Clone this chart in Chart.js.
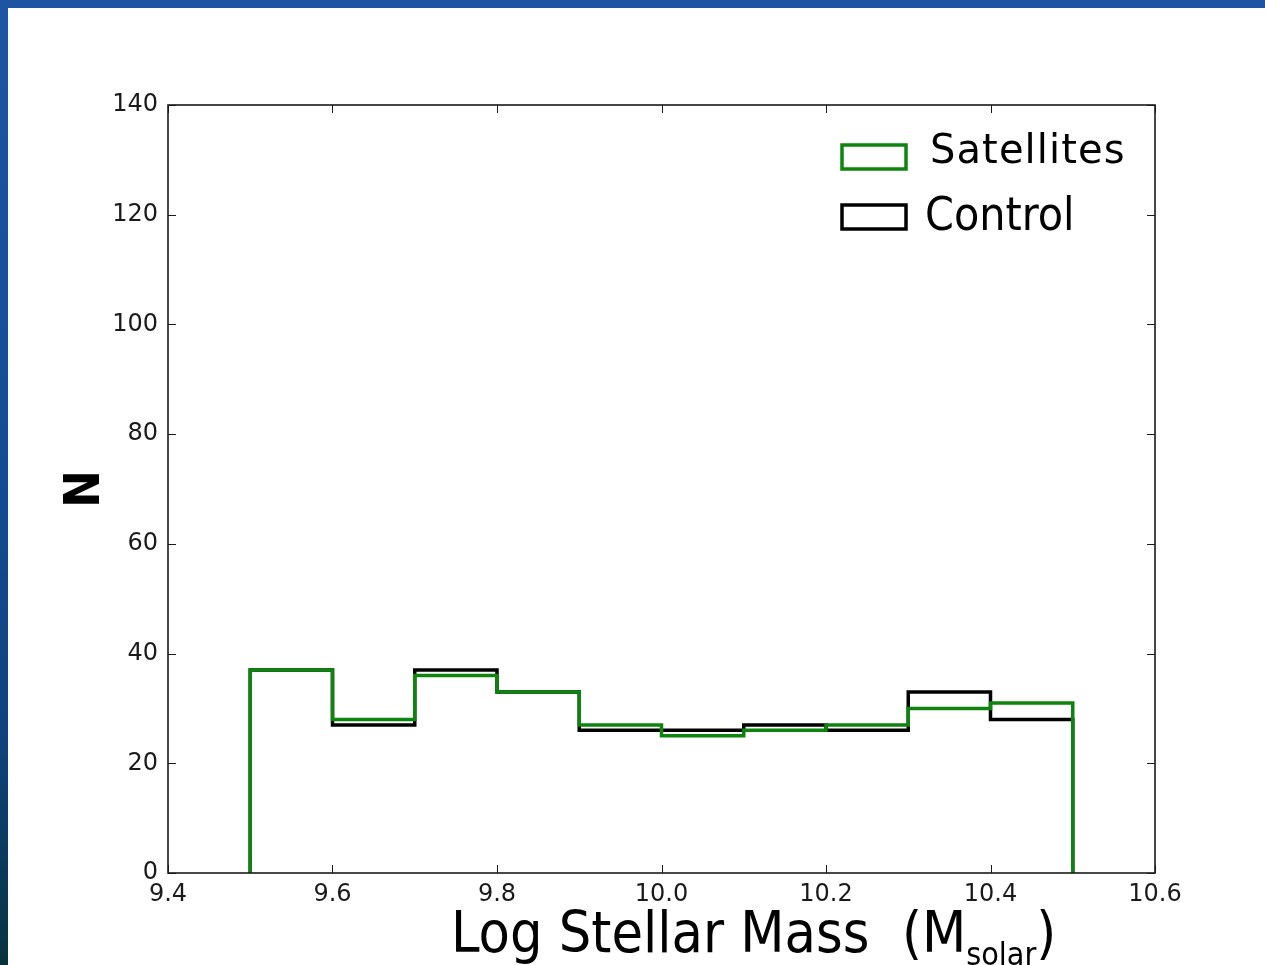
<!DOCTYPE html>
<html>
<head>
<meta charset="utf-8">
<title>Log Stellar Mass histogram</title>
<script src="https://cdn.jsdelivr.net/npm/chart.js@4.4.0/dist/chart.umd.min.js"></script>
<style>
    html, body {
        margin: 0;
        padding: 0;
        width: 1265px;
        height: 965px;
        overflow: hidden;
        background: linear-gradient(180deg, #1d55a2 0%, #164c96 45%, #0e4380 75%, #07333f 100%);
    }
    #panel {
        position: absolute;
        left: 8px;
        top: 8px;
        width: 1257px;
        height: 957px;
        background: #fff;
    }
</style>
</head>
<body>
<div id="panel">
    <canvas id="massChart" width="1257" height="957"></canvas>
</div>
<script>
// Dữ liệu histogram
const binEdges = [9.5, 9.6, 9.7, 9.8, 9.9, 10.0, 10.1, 10.2, 10.3, 10.4, 10.5];
const satellites = [37, 28, 36, 33, 27, 25, 26, 27, 30, 31];
const control = [37, 27, 37, 33, 26, 26, 27, 26, 33, 28];

const xTicks = [9.4, 9.6, 9.8, 10.0, 10.2, 10.4, 10.6];
const yTicks = [0, 20, 40, 60, 80, 100, 120, 140];

const seriesNames = ['Satellites', 'Control'];
const seriesColors = ['#0d840d', '#000000'];

// Chuyển bins + counts thành đường viền dạng bậc thang (histtype='step')
function stepOutline(edges, counts) {
    const pts = [{ x: edges[0], y: 0 }];
    counts.forEach((c, i) => {
        pts.push({ x: edges[i], y: c });
        pts.push({ x: edges[i + 1], y: c });
    });
    pts.push({ x: edges[edges.length - 1], y: 0 });
    return pts;
}

// Khung + tick hướng vào trong, kiểu matplotlib
const framePlugin = {
    id: 'frame',
    afterDatasetsDraw(chart) {
        const { ctx, chartArea: a, scales } = chart;
        ctx.save();
        ctx.strokeStyle = '#1a1a1a';
        ctx.lineWidth = 1;
        ctx.beginPath();
        scales.x.ticks.forEach(t => {
            const px = Math.round(scales.x.getPixelForValue(t.value)) + 0.5;
            ctx.moveTo(px, a.bottom); ctx.lineTo(px, a.bottom - 8);
            ctx.moveTo(px, a.top); ctx.lineTo(px, a.top + 8);
        });
        scales.y.ticks.forEach(t => {
            const py = Math.round(scales.y.getPixelForValue(t.value)) + 0.5;
            ctx.moveTo(a.left, py); ctx.lineTo(a.left + 8, py);
            ctx.moveTo(a.right, py); ctx.lineTo(a.right - 8, py);
        });
        ctx.stroke();
        ctx.lineWidth = 1.6;
        ctx.strokeRect(a.left, a.top, a.right - a.left, a.bottom - a.top);
        ctx.restore();
    }
};

// Chú thích và tiêu đề trục
const labelsPlugin = {
    id: 'labels',
    afterDraw(chart) {
        const { ctx, chartArea: a } = chart;
        ctx.save();

        // legend
        const boxX = a.right - 313;
        const rows = [
            { top: 137, base: 155, textX: a.right - 225, font: '40px "DejaVu Sans"', spacing: '1.1px' },
            { top: 197, base: 222, textX: a.right - 230, font: '46px "DejaVu Sans Condensed", "DejaVu Sans"', spacing: '0px' }
        ];
        chart.data.datasets.forEach((ds, i) => {
            const r = rows[i];
            ctx.lineWidth = 3.5;
            ctx.strokeStyle = ds.borderColor;
            ctx.fillStyle = '#fff';
            ctx.fillRect(boxX, r.top, 64, 24);
            ctx.strokeRect(boxX, r.top, 64, 24);
            ctx.fillStyle = '#000';
            ctx.font = r.font;
            ctx.letterSpacing = r.spacing;
            ctx.textBaseline = 'alphabetic';
            ctx.textAlign = 'left';
            ctx.fillText(ds.label, r.textX, r.base);
        });
        ctx.letterSpacing = '0px';

        // tiêu đề trục x, có chỉ số dưới
        const big = '57px "DejaVu Sans Condensed", "DejaVu Sans"';
        const small = '32px "DejaVu Sans Condensed", "DejaVu Sans"';
        let x = a.left + 283;
        const base = 944;
        ctx.fillStyle = '#000';
        ctx.font = big;
        const head = 'Log Stellar Mass  (M';
        ctx.fillText(head, x, base);
        x += ctx.measureText(head).width;
        ctx.font = small;
        ctx.fillText('solar', x, base + 13);
        x += ctx.measureText('solar').width;
        ctx.font = big;
        ctx.fillText(')', x, base);

        // tiêu đề trục y
        ctx.translate(78, 481);
        ctx.rotate(-Math.PI / 2);
        ctx.font = 'bold 50px "DejaVu Sans Condensed", "DejaVu Sans"';
        ctx.textAlign = 'center';
        ctx.textBaseline = 'middle';
        ctx.fillText('N', 0, 0);
        ctx.restore();
    }
};

const tickFont = { family: '"DejaVu Sans"', size: 24 };

const ctx = document.getElementById('massChart').getContext('2d');
const massChart = new Chart(ctx, {
    type: 'line',
    data: {
        datasets: [
            {
                label: seriesNames[0],
                data: stepOutline(binEdges, satellites),
                borderColor: seriesColors[0],
                borderWidth: 3.5,
                borderJoinStyle: 'miter',
                pointRadius: 0,
                fill: false,
                tension: 0
            },
            {
                label: seriesNames[1],
                data: stepOutline(binEdges, control),
                borderColor: seriesColors[1],
                borderWidth: 3.5,
                borderJoinStyle: 'miter',
                pointRadius: 0,
                fill: false,
                tension: 0
            }
        ]
    },
    options: {
        responsive: false,
        animation: false,
        devicePixelRatio: 1,
        layout: { padding: { left: 0, top: 97, right: 110, bottom: 0 } },
        plugins: {
            legend: { display: false },
            tooltip: { enabled: false }
        },
        scales: {
            x: {
                type: 'linear',
                min: xTicks[0],
                max: xTicks[xTicks.length - 1],
                afterBuildTicks: scale => {
                    scale.ticks = xTicks.map(v => ({ value: v }));
                },
                afterFit: scale => { scale.height = 92; },
                grid: { display: false },
                border: { display: false },
                ticks: {
                    padding: -1,
                    color: '#1a1a1a',
                    font: tickFont,
                    maxRotation: 0,
                    callback: value => value.toFixed(1)
                }
            },
            y: {
                min: yTicks[0],
                max: yTicks[yTicks.length - 1],
                afterBuildTicks: scale => {
                    scale.ticks = yTicks.map(v => ({ value: v }));
                },
                afterFit: scale => { scale.width = 160; },
                grid: { display: false },
                border: { display: false },
                ticks: {
                    padding: 2,
                    color: '#1a1a1a',
                    font: tickFont,
                    callback: value => String(value)
                }
            }
        }
    },
    plugins: [framePlugin, labelsPlugin]
});
</script>
</body>
</html>
